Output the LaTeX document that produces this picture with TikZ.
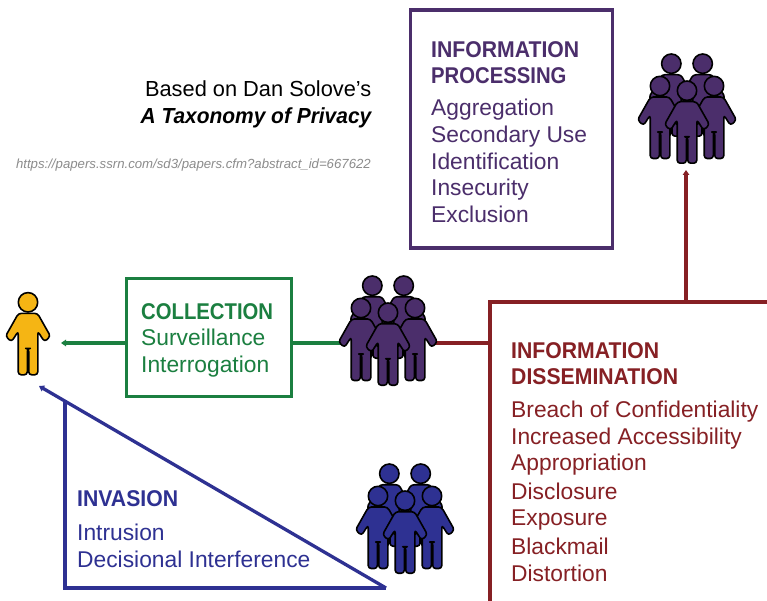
\documentclass[tikz,border=0pt]{standalone}
\usepackage{fontspec}
\setmainfont{Liberation Sans}
\newfontfamily\headfont[FakeStretch=0.93]{Liberation Sans Bold}
\newfontfamily\headnarrow[FakeStretch=0.89]{Liberation Sans Bold}
\newfontfamily\condbi[FakeStretch=0.96]{Liberation Sans Bold Italic}
\usetikzlibrary{arrows.meta}
\definecolor{cpurple}{HTML}{4B2E6B}
\definecolor{cred}{HTML}{862024}
\definecolor{cgreen}{HTML}{1B7F40}
\definecolor{cnavy}{HTML}{2E3192}
\definecolor{cyellow}{HTML}{F5B514}
\tikzset{
  x=1pt,y=-1pt,
  frame/.style={draw=#1,line width=3.3pt,fill=white,inner sep=0pt},
  link/.style={draw=#1,line width=3.3pt},
  tipped/.style={-{Triangle[length=5pt,width=6.5pt]}},
  label/.style={anchor=north west,align=left,inner sep=0pt,text=#1,font=\fontsize{22.8}{26.8}\selectfont},
  person/.pic={
    \path[draw=black,line width=1.6pt,fill=#1,line join=round]
      (0,0) circle[radius=9.7];
    \path[draw=black,line width=1.6pt,fill=#1,line join=round,rounded corners=3pt]
      (-9.5,11) -- (9.5,11) -- (22.5,34) -- (16.5,39.5) -- (9.8,29) -- (9.8,72.5) -- (0.7,72.5) -- (0.7,46) -- (-0.7,46) -- (-0.7,72.5) -- (-9.8,72.5) -- (-9.8,29) -- (-16.5,39.5) -- (-22.5,34) -- cycle;
  }
}
\begin{document}
\begin{tikzpicture}
\useasboundingbox (0,0) rectangle (767,601);
\fill[white] (0,0) rectangle (767,601);
% boxes
\node[frame=cpurple,minimum width=202pt,minimum height=238pt] (processing) at (511.5,129) {};
\node[frame=cgreen,minimum width=165pt,minimum height=118pt] (collection) at (209,337.5) {};
\coordinate (dissTL) at (490,302);
\coordinate (dissTop) at (686,302);
\coordinate (dissLeft) at (490,343);
\draw[link=cred] (490,603) -- (dissTL) -- (769,302);
% connectors
\coordinate (groupOneLeft) at (345,343);
\coordinate (groupOneRight) at (430,343);
\coordinate (subjectEnd) at (61,343);
\coordinate (groupTwoEnd) at (686,170);
\draw[link=cgreen] (collection.east |- groupOneLeft) -- (groupOneLeft);
\draw[link=cgreen,tipped] (collection.west |- subjectEnd) -- (subjectEnd);
\draw[link=cred] (groupOneRight) -- (dissLeft);
\draw[link=cred,tipped] (dissTop) -- (groupTwoEnd);
% invasion
\coordinate (invA) at (65,402);
\coordinate (invB) at (65,588);
\coordinate (invC) at (386,588);
\coordinate (invTip) at (39,386);
\draw[link=cnavy,line join=miter] (invA) -- (invB) -- (invC);
\draw[link=cnavy,tipped] (invC) -- (invTip);
% people
\pic at (28,302.3) {person=cyellow};
\foreach \ox/\oy/\c in {0/0/cpurple,299/-222/cpurple,17/188/cnavy}{
  \begin{scope}[shift={(\ox,\oy)}]
    \pic at (372.3,285.7) {person=\c};
    \pic at (403.7,285.7) {person=\c};
    \pic at (361,308) {person=\c};
    \pic at (415,308) {person=\c};
    \pic at (388,312.7) {person=\c};
  \end{scope}
}
% text
\node[anchor=north east,inner sep=0pt,align=right,font=\fontsize{21.8}{27}\selectfont] (credit) at (371.5,80.5)
  {Based on Dan Solove's\\[0pt]{\condbi A Taxonomy of Privacy}};
\node[anchor=north east,inner sep=0pt,font=\fontsize{13.2}{15}\selectfont\itshape,text=black!45] (url) at (371,158.5)
  {https://papers.ssrn.com/sd3/papers.cfm?abstract\_id=667622};
\node[label=cpurple] (processingtext) at (431,41)
  {{\headfont INFORMATION}\\{\headnarrow PROCESSING}\\[4.5pt]Aggregation\\Secondary Use\\[1pt]Identification\\[-1pt]Insecurity\\Exclusion};
\node[label=cgreen] (collectiontext) at (141,303)
  {{\headnarrow COLLECTION}\\Surveillance\\Interrogation};
\node[label=cred] (diss) at (511,342)
  {{\headfont INFORMATION}\\{\headfont DISSEMINATION}\\[6pt]Breach of Confidentiality\\Increased Accessibility\\[-0.5pt]Appropriation\\[2pt]Disclosure\\[-0.5pt]Exposure\\[2pt]Blackmail\\Distortion};
\node[label=cnavy] (invasion) at (77,490)
  {{\headfont INVASION}\\[8pt]Intrusion\\Decisional Interference};
\end{tikzpicture}
\end{document}
